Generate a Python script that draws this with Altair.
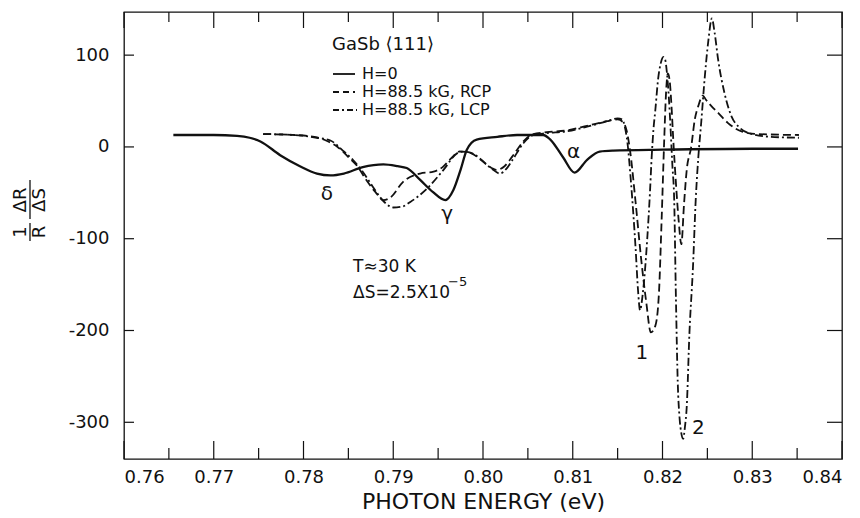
import altair as alt
import pandas as pd

# ---------------- data ----------------
solid_E = [0.7655, 0.7700, 0.7726, 0.7740, 0.7752, 0.7774, 0.7796, 0.7815, 0.7830, 0.7845,
           0.7866, 0.7889, 0.7905, 0.7915, 0.7930, 0.7944, 0.7958, 0.7967, 0.7975, 0.7982,
           0.7993, 0.8016, 0.8038, 0.8067, 0.8075, 0.8089, 0.8102, 0.8116, 0.8130, 0.8145,
           0.8200, 0.8300, 0.8351]
solid_V = [13, 13, 12, 10, 6, -9, -21, -29, -31, -29,
           -22, -19, -21, -23, -36, -49, -58, -47, -25, -3,
           8, 11, 13, 13, 8, -11, -28, -14, -5, -4,
           -3, -2, -2]

rcp_E = [0.7755, 0.7790, 0.7812, 0.7825, 0.7838, 0.7850, 0.7860, 0.7870, 0.7880, 0.7889,
         0.7897, 0.7911, 0.7930, 0.7945, 0.7955, 0.7965, 0.7974, 0.7985, 0.7995, 0.8005,
         0.8015, 0.8024, 0.8033, 0.8045, 0.8056, 0.8071, 0.8093, 0.8116, 0.8138, 0.8150,
         0.8156, 0.8160, 0.8164, 0.8170, 0.8176, 0.8182, 0.8187, 0.8192, 0.8196, 0.8199,
         0.8202, 0.8204, 0.8206, 0.8208, 0.8210, 0.8212, 0.8215, 0.8218, 0.8221, 0.8224,
         0.8227, 0.8232, 0.8236, 0.8240, 0.8245, 0.8248, 0.8254, 0.8262, 0.8273, 0.8288,
         0.8307, 0.8352]
rcp_V = [14, 13, 11, 7, 0, -11, -21, -36, -49, -58,
         -55, -38, -29, -27, -22, -12, -5, -6, -12, -20,
         -25, -21, -10, 6, 14, 16, 18, 23, 28, 30,
         27, 18, -5, -60, -120, -170, -202, -195, -160, -80,
         10, 60, 80, 72, 45, 8, -40, -80, -106, -62,
         -25, 0, 30, 45, 56, 52, 45, 37, 26, 17,
         14, 13]

lcp_E = [0.7755, 0.7790, 0.7815, 0.7830, 0.7845, 0.7855, 0.7866, 0.7877, 0.7890, 0.7900,
         0.7910, 0.7919, 0.7938, 0.7956, 0.7971, 0.7978, 0.7990, 0.7997, 0.8010, 0.8019,
         0.8026, 0.8033, 0.8045, 0.8056, 0.8071, 0.8093, 0.8116, 0.8138, 0.8150, 0.8155,
         0.8158, 0.8161, 0.8165, 0.8170, 0.8173, 0.8175, 0.8178, 0.8183, 0.8186, 0.8188,
         0.8190, 0.8192, 0.8195, 0.8198, 0.8201, 0.8203, 0.8205, 0.8207, 0.8209, 0.8211,
         0.8213, 0.8215, 0.8217, 0.8219, 0.8221, 0.8223, 0.8225, 0.8227, 0.8230, 0.8234,
         0.8237, 0.8240, 0.8243, 0.8247, 0.8251, 0.8255, 0.8258, 0.8262, 0.8269, 0.8277,
         0.8286, 0.8300, 0.8320, 0.8352]
lcp_V = [14, 13, 10, 7, -5, -14, -27, -43, -60, -66,
         -65, -60, -45, -25, -7, -5, -8, -13, -24, -29,
         -24, -14, 4, 13, 15, 17, 22, 28, 31, 30,
         22, 4, -40, -110, -160, -178, -160, -100, -50, -10,
         20, 40, 73, 91, 98, 95, 80, 55, 20, -20,
         -57, -167, -257, -295, -312, -318, -305, -283, -203, -130,
         -58, -10, 25, 75, 115, 140, 125, 95, 59, 33,
         21, 14, 11, 10]

x_major = [0.76, 0.77, 0.78, 0.79, 0.80, 0.81, 0.82, 0.83, 0.84]
x_minor = [0.765, 0.775, 0.785, 0.795, 0.805, 0.815, 0.825, 0.835]
y_ticks = [-300, -200, -100, 0, 100]

peak_labels = ["δ", "γ", "α", "1", "2"]
peak_E = [0.7826, 0.7960, 0.8101, 0.8177, 0.8240]
peak_V = [-51, -73, -6, -225, -306]

legend_labels = ["H=0", "H=88.5 kG, RCP", "H=88.5 kG, LCP"]

# ---------------- chart ----------------
W, H = 718, 447
FONT = "DejaVu Sans"
INK = "#111111"

xs = alt.Scale(domain=[0.76, 0.84], nice=False, zero=False)
ys = alt.Scale(domain=[-340, 147], nice=False, zero=False)

x_axis = alt.Axis(values=x_major, format=".2f", domain=False, ticks=False, grid=False,
                  labelFont=FONT, labelFontSize=18, labelColor=INK, labelPadding=9,
                  title="PHOTON ENERGY (eV)", titleFont=FONT, titleFontSize=22,
                  titleFontWeight="normal", titleColor=INK, titlePadding=5)
y_axis = alt.Axis(values=y_ticks, domain=False, ticks=False, grid=False,
                  labelExpr="datum.value < 0 ? '-' + abs(datum.value) : '' + datum.value",
                  labelFont=FONT, labelFontSize=18, labelColor=INK, labelPadding=15,
                  title="")

X = lambda: alt.X("E:Q", scale=xs, axis=x_axis)
Y = lambda: alt.Y("V:Q", scale=ys, axis=y_axis)


def curve(E, V, dash, width):
    df = pd.DataFrame({"E": E, "V": V})
    mk = dict(color=INK, strokeWidth=width, interpolate="monotone")
    if dash:
        mk["strokeDash"] = dash
    return alt.Chart(df).mark_line(**mk).encode(x=X(), y=Y())


solid = curve(solid_E, solid_V, None, 2.3)
rcp = curve(rcp_E, rcp_V, [8, 4], 1.8)
lcp = curve(lcp_E, lcp_V, [8, 3, 2, 3], 1.8)

# inward ticks on all four sides
xmaj = pd.DataFrame({"E": x_major})
xmin = pd.DataFrame({"E": x_minor})
ytk = pd.DataFrame({"V": y_ticks})


def xtick(df, y0, y1):
    return alt.Chart(df).mark_rule(color=INK, strokeWidth=1.2).encode(
        x=X(), y=alt.value(y0), y2=alt.value(y1))


def ytick(df, x0, x1):
    return alt.Chart(df).mark_rule(color=INK, strokeWidth=1.2).encode(
        y=Y(), x=alt.value(x0), x2=alt.value(x1))


ticks = [
    xtick(xmaj, H, H - 18), xtick(xmin, H, H - 11),
    xtick(xmaj, 0, 16), xtick(xmin, 0, 10),
    ytick(ytk, 0, 10), ytick(ytk, W - 15, W),
]

one = pd.DataFrame({"a": [0]})


def txt(s, x, y, size=17, align="left", angle=0, baseline="middle"):
    return alt.Chart(one).mark_text(text=s, font=FONT, fontSize=size, color=INK,
                                    align=align, baseline=baseline, angle=angle).encode(
        x=alt.value(x), y=alt.value(y))


def seg(x0, x1, y0, y1, dash=None, width=1.8):
    mk = dict(color=INK, strokeWidth=width)
    if dash:
        mk["strokeDash"] = dash
    return alt.Chart(one).mark_rule(**mk).encode(
        x=alt.value(x0), x2=alt.value(x1), y=alt.value(y0), y2=alt.value(y1))


# peak labels in data coordinates
lab_df = pd.DataFrame({"E": peak_E, "V": peak_V, "s": peak_labels})
peak_txt = alt.Chart(lab_df).mark_text(font=FONT, fontSize=20, color=INK).encode(
    x=X(), y=Y(), text="s:N")

notes = [
    txt("GaSb ⟨111⟩", 208, 33, size=18),
    seg(209, 231, 62, 62),
    seg(209, 231, 80, 80, dash=[6, 4]),
    seg(209, 233, 98, 98, dash=[6, 3, 2, 3]),
    txt(legend_labels[0], 238, 62, size=16),
    txt(legend_labels[1], 238, 80, size=16),
    txt(legend_labels[2], 238, 98, size=16),
    txt("T≈30 K", 229, 255, size=17),
    txt("ΔS=2.5X10", 229, 281, size=17),
    txt("−5", 324, 270, size=13),
    # y-axis title: (1/R)(ΔR/ΔS), written sideways
    txt("ΔR", -103, 188, size=18, align="center", angle=270),
    txt("ΔS", -84, 188, size=18, align="center", angle=270),
    txt("1", -103, 220, size=18, align="center", angle=270),
    txt("R", -84, 220, size=18, align="center", angle=270),
    seg(-94, -94, 168, 207, width=1.3),
    seg(-94, -94, 211, 229, width=1.3),
]

chart = alt.layer(solid, rcp, lcp, peak_txt, *ticks, *notes).properties(
    width=W, height=H,
    autosize=alt.AutoSizeParams(type="none"),
    padding={"left": 116, "top": 4, "right": 10, "bottom": 62},
    background="white",
).configure_view(stroke=INK, strokeWidth=1.3)

chart.save("out.html", embed_options={"renderer": "svg", "actions": False})
